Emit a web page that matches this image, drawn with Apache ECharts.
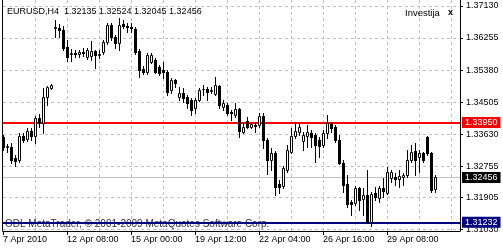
<!DOCTYPE html>
<html>
<head>
<meta charset="utf-8">
<script src="https://cdn.jsdelivr.net/npm/echarts@6/dist/echarts.min.js"></script>
<style>
html,body{margin:0;padding:0;background:#fff;}
#c{width:503px;height:250px;}
</style>
</head>
<body>
<div id="c"></div>
<script>
// ---- data (EURUSD H4, bar index 0..108) ----
const opens = [1.33557,1.33284,1.33284,1.32984,1.32930,1.33584,1.33502,1.33720,1.33584,1.34075,1.33938,1.34647,1.34892,1.36527,1.36527,1.36473,1.36009,1.35819,1.35846,1.35819,1.35873,1.35737,1.35764,1.35900,1.35791,1.35873,1.36145,1.36609,1.36282,1.36118,1.36636,1.36582,1.36555,1.36500,1.35900,1.35410,1.35328,1.35601,1.35655,1.35464,1.35383,1.35328,1.34837,1.35110,1.34647,1.34756,1.34647,1.34565,1.34347,1.34565,1.34865,1.34865,1.34810,1.34728,1.34947,1.34374,1.34429,1.34238,1.34156,1.34320,1.33693,1.33993,1.33829,1.33884,1.33884,1.34129,1.33475,1.32930,1.33121,1.32276,1.32221,1.32657,1.33148,1.33584,1.33693,1.33448,1.33584,1.33666,1.33611,1.33475,1.33339,1.33666,1.33911,1.33829,1.33475,1.32848,1.32276,1.31785,1.31758,1.32167,1.31867,1.31976,1.31240,1.32030,1.31894,1.32167,1.32030,1.32439,1.32466,1.32412,1.32466,1.32521,1.32930,1.33175,1.33012,1.33121,1.33557,1.33121,1.32135];
const closes = [1.33284,1.33312,1.32930,1.32903,1.33584,1.33475,1.33720,1.33584,1.34075,1.33938,1.34647,1.34919,1.34974,1.36555,1.36473,1.35982,1.35737,1.35846,1.35819,1.35873,1.35846,1.35928,1.35900,1.35791,1.35819,1.36145,1.36609,1.36282,1.36118,1.36609,1.36582,1.36555,1.36527,1.35873,1.35383,1.35328,1.35791,1.35791,1.35328,1.35301,1.35328,1.34783,1.35110,1.35028,1.34756,1.34620,1.34483,1.34293,1.34565,1.34837,1.34870,1.34783,1.34837,1.34974,1.34429,1.34483,1.34211,1.34211,1.34320,1.33720,1.33829,1.33829,1.33911,1.33857,1.34129,1.33475,1.32930,1.33121,1.32194,1.32194,1.32712,1.33202,1.33584,1.33720,1.33829,1.33611,1.33693,1.33557,1.33339,1.33312,1.33666,1.33938,1.33802,1.33475,1.32848,1.32248,1.31731,1.31731,1.32167,1.31840,1.31976,1.31240,1.32003,1.31921,1.32167,1.32085,1.32603,1.32603,1.32412,1.32494,1.32521,1.32930,1.33148,1.32930,1.33121,1.32930,1.33121,1.32112,1.32456];
const highs = [1.33611,1.33366,1.33393,1.33066,1.33666,1.33666,1.33802,1.33802,1.34129,1.34183,1.34892,1.34947,1.35001,1.36745,1.36636,1.36582,1.36200,1.35955,1.35928,1.35928,1.35982,1.35982,1.36173,1.35928,1.35928,1.36200,1.36664,1.36664,1.36337,1.36800,1.36745,1.36664,1.36664,1.36555,1.35955,1.35492,1.35846,1.35846,1.35710,1.35519,1.35601,1.35383,1.35165,1.35137,1.34919,1.34892,1.34701,1.34620,1.34620,1.34892,1.34974,1.34919,1.34919,1.35192,1.34974,1.34565,1.34483,1.34293,1.34483,1.34347,1.33938,1.34102,1.33938,1.33938,1.34211,1.34211,1.33530,1.33257,1.33175,1.32385,1.32766,1.33339,1.33802,1.33966,1.33911,1.33693,1.33884,1.33747,1.33666,1.33557,1.33747,1.34156,1.33966,1.33884,1.33611,1.32930,1.32521,1.31840,1.32221,1.32194,1.32167,1.32657,1.32058,1.32194,1.32221,1.32439,1.32739,1.32657,1.32575,1.32657,1.32575,1.33202,1.33339,1.33393,1.33202,1.33148,1.33584,1.33148,1.32524];
const lows = [1.33202,1.33148,1.32848,1.32766,1.32875,1.33421,1.33448,1.33475,1.33393,1.33829,1.33666,1.34429,1.34865,1.36282,1.36282,1.35928,1.35628,1.35628,1.35737,1.35737,1.35764,1.35682,1.35655,1.35437,1.35710,1.35819,1.36091,1.36200,1.35982,1.35928,1.36527,1.36418,1.36418,1.35819,1.35192,1.35274,1.35274,1.35573,1.35301,1.35246,1.35165,1.34701,1.34756,1.34919,1.34565,1.34510,1.34347,1.34156,1.34211,1.34538,1.34701,1.34565,1.34756,1.34701,1.34347,1.34293,1.34156,1.34020,1.34102,1.33557,1.33666,1.33802,1.33802,1.33693,1.33829,1.33257,1.32548,1.32657,1.31976,1.32030,1.32167,1.32603,1.33121,1.33530,1.33611,1.33202,1.33284,1.33284,1.32875,1.33012,1.33284,1.33530,1.33693,1.33421,1.32821,1.32058,1.31649,1.31431,1.31703,1.31567,1.31431,1.31213,1.31131,1.31840,1.31785,1.31921,1.32003,1.32330,1.32248,1.32194,1.32248,1.32466,1.32875,1.32521,1.32603,1.32875,1.33066,1.32058,1.32045];

const priceTicks = [1.37130,1.36255,1.35380,1.34505,1.33630,1.32755,1.31905,1.31030];
const timeTickBars = [0,16,32,48,64,80,96];
const timeTickLabels = ['7 Apr 2010','12 Apr 08:00','15 Apr 00:00','19 Apr 12:00','22 Apr 04:00','26 Apr 16:00','29 Apr 08:00'];
const timeGridBars = [8,16,24,32,40,48,56,64,72,80,88,96,104,112];
const levelRed = 1.33950;
const levelNavy = 1.31232;
const bidLevel = closes[closes.length - 1];
const yMin = 1.30995, yMax = 1.37291;
const xMax = 114.25;

const FONT = 'Liberation Sans';
const candles = opens.map((o, i) => [i, o, closes[i], lows[i], highs[i]]);

function renderCandle(params, api) {
  const i = api.value(0), o = api.value(1), c = api.value(2), l = api.value(3), h = api.value(4);
  const pO = api.coord([i, o]), pC = api.coord([i, c]), pL = api.coord([i, l]), pH = api.coord([i, h]);
  const col = Math.floor(pO[0] + 0.25);
  const xc = col + 0.5;
  const yT = Math.round(Math.min(pO[1], pC[1]));
  const yB = Math.round(Math.max(pO[1], pC[1]));
  const yH = Math.round(pH[1]), yL = Math.round(pL[1]);
  const children = [{
    type: 'line',
    shape: { x1: xc, y1: yH, x2: xc, y2: yL + 1 },
    style: { stroke: '#000', lineWidth: 1 }
  }];
  if (c > o) {
    children.push({
      type: 'rect',
      shape: { x: col - 0.5, y: yT + 0.5, width: 2, height: Math.max(yB - yT, 0) },
      style: { fill: '#fff', stroke: '#000', lineWidth: 1 }
    });
  } else {
    children.push({
      type: 'rect',
      shape: { x: col - 1, y: yT, width: 3, height: Math.max(yB - yT, 0) + 1 },
      style: { fill: '#000' }
    });
  }
  return { type: 'group', children };
}

const gridDash = { color: '#c0c0c0', type: [3, 3], width: 1 };
const markLines = priceTicks.map(v => ({ yAxis: v, lineStyle: gridDash, label: { show: false } }))
  .concat(timeGridBars.map(b => ({ xAxis: b, lineStyle: gridDash, label: { show: false } })));
function boxLabel(bg) {
  return { show: true, position: 'end', distance: 2, formatter: p => Number(p.value).toFixed(5),
    color: '#fff', backgroundColor: bg, padding: [1, 3, 0, 3], fontSize: 9, fontFamily: FONT, lineHeight: 10 };
}
markLines.push({ yAxis: bidLevel, lineStyle: { color: '#c0c0c0', type: 'solid', width: 1 }, label: boxLabel('#000') });
markLines.push({ yAxis: levelRed, lineStyle: { color: '#ff0000', type: 'solid', width: 2 }, label: boxLabel('#ff0000') });
markLines.push({ yAxis: levelNavy, lineStyle: { color: '#000080', type: 'solid', width: 2 }, label: boxLabel('#000080') });

const chart = echarts.init(document.getElementById('c'), null, { renderer: 'canvas' });
const n = closes.length;
chart.setOption({
  animation: false,
  backgroundColor: '#fff',
  grid: { left: 3, top: 0, width: 457, height: 231 },
  xAxis: [{
    type: 'value', min: 0, max: xMax, interval: 16,
    axisLine: { show: true, onZero: false, lineStyle: { color: '#000', width: 1 } },
    axisTick: { show: true, length: 4, customValues: timeTickBars, lineStyle: { color: '#000' } },
    axisLabel: { customValues: timeTickBars, align: 'left', margin: 4, color: '#000', fontSize: 9, fontFamily: FONT,
      formatter: v => timeTickLabels[timeTickBars.indexOf(v)] || '' },
    splitLine: { show: false }
  }],
  yAxis: [{
    type: 'value', position: 'right', min: yMin, max: yMax, scale: true,
    axisLine: { show: true, onZero: false, lineStyle: { color: '#000', width: 1 } },
    axisTick: { show: true, length: 3, customValues: priceTicks, lineStyle: { color: '#000' } },
    axisLabel: { customValues: priceTicks, margin: 6, color: '#000', fontSize: 9, fontFamily: FONT,
      formatter: v => v.toFixed(5) },
    splitLine: { show: false }
  }, {
    type: 'value', position: 'left', offset: 1, min: yMin, max: yMax, scale: true,
    axisLine: { show: true, onZero: false, lineStyle: { color: '#000', width: 1 } },
    axisTick: { show: false }, axisLabel: { show: false }, splitLine: { show: false }
  }],
  series: [{
    type: 'line', data: [], z: 1, silent: true,
    markLine: { silent: true, symbol: 'none', precision: 5, z: 1, animation: false, data: markLines }
  }, {
    type: 'custom', z: 3, xAxisIndex: 0, yAxisIndex: 0,
    renderItem: renderCandle,
    encode: { x: 0, y: [1, 2, 3, 4] },
    data: candles, silent: true, clip: false
  }],
  graphic: [
    { type: 'text', z: 10, style: { x: 7, y: 12, verticalAlign: 'middle', fill: '#000',
      text: 'EURUSD,H4  ' + [opens[n-1], highs[n-1], lows[n-1], closes[n-1]].map(v => v.toFixed(5)).join(' '),
      fontSize: 9, fontFamily: FONT } },
    { type: 'text', z: 10, style: { x: 405, y: 13, verticalAlign: 'middle', fill: '#000', text: 'Investija',
      fontSize: 9.5, fontFamily: FONT } },
    { type: 'text', z: 10, style: { x: 448, y: 13, verticalAlign: 'middle', fill: '#000', text: 'x',
      fontSize: 9, fontWeight: 'bold', fontFamily: FONT } },
    { type: 'text', z: 0, style: { x: 5, y: 224, verticalAlign: 'middle', fill: '#30304a',
      text: 'ODL MetaTrader, © 2001-2009 MetaQuotes Software Corp.', fontSize: 10, fontFamily: FONT } }
  ]
});
</script>
</body>
</html>
